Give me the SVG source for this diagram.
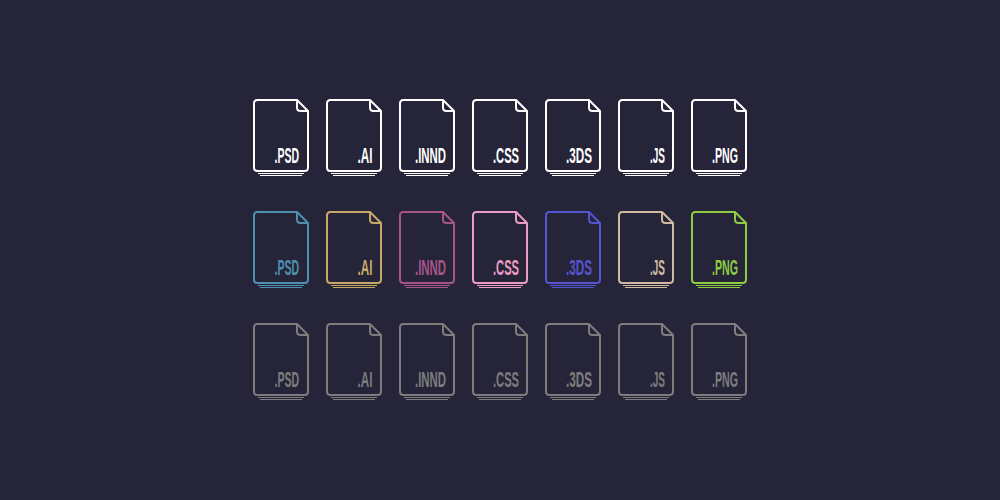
<svg xmlns="http://www.w3.org/2000/svg" width="1000" height="500" viewBox="0 0 1000 500">
<style>
.l{font-family:"Liberation Sans",sans-serif;font-size:22px;font-weight:700;text-anchor:end;fill:currentColor}
.o{fill:none;stroke:currentColor;stroke-width:2;stroke-linejoin:round}
.s{fill:none;stroke:currentColor;stroke-width:1}
</style>
<defs>
<g id="file">
<path class="o" d="M257.500 100H297L308 111V167.500Q308 171 304.500 171H257.500Q254 171 254 167.500V103.500Q254 100 257.500 100Z"/>
<path class="o" d="M297 100V107.500Q297 111 300.500 111H308"/>
<path class="s" d="M258 173.500H304M260 175.500H302"/>
</g>
</defs>
<rect width="1000" height="500" fill="#252439"/>
<g id="r1" color="#ffffff">
<g id="r1-psd"><use href="#file"/><text class="l" x="299" y="162.500" textLength="24.500" lengthAdjust="spacingAndGlyphs">.PSD</text></g>
<g id="r1-ai"><use href="#file" x="73"/><text class="l" x="372.500" y="162.500" textLength="15" lengthAdjust="spacingAndGlyphs">.AI</text></g>
<g id="r1-innd"><use href="#file" x="146"/><text class="l" x="446" y="162.500" textLength="31" lengthAdjust="spacingAndGlyphs">.INND</text></g>
<g id="r1-css"><use href="#file" x="219"/><text class="l" x="519" y="162.500" textLength="26" lengthAdjust="spacingAndGlyphs">.CSS</text></g>
<g id="r1-3ds"><use href="#file" x="292"/><text class="l" x="592" y="162.500" textLength="26" lengthAdjust="spacingAndGlyphs">.3DS</text></g>
<g id="r1-js"><use href="#file" x="365"/><text class="l" x="665" y="162.500" textLength="15" lengthAdjust="spacingAndGlyphs">.JS</text></g>
<g id="r1-png"><use href="#file" x="438"/><text class="l" x="738" y="162.500" textLength="26" lengthAdjust="spacingAndGlyphs">.PNG</text></g>
</g>
<g id="r2">
<g id="r2-psd" color="#4f8fb0"><use href="#file" y="112"/><text class="l" x="299" y="274.500" textLength="24.500" lengthAdjust="spacingAndGlyphs">.PSD</text></g>
<g id="r2-ai" color="#c8a866"><use href="#file" x="73" y="112"/><text class="l" x="372.500" y="274.500" textLength="15" lengthAdjust="spacingAndGlyphs">.AI</text></g>
<g id="r2-innd" color="#a5558a"><use href="#file" x="146" y="112"/><text class="l" x="446" y="274.500" textLength="31" lengthAdjust="spacingAndGlyphs">.INND</text></g>
<g id="r2-css" color="#ec9cc2"><use href="#file" x="219" y="112"/><text class="l" x="519" y="274.500" textLength="26" lengthAdjust="spacingAndGlyphs">.CSS</text></g>
<g id="r2-3ds" color="#5555d0"><use href="#file" x="292" y="112"/><text class="l" x="592" y="274.500" textLength="26" lengthAdjust="spacingAndGlyphs">.3DS</text></g>
<g id="r2-js" color="#cfb9a0"><use href="#file" x="365" y="112"/><text class="l" x="665" y="274.500" textLength="15" lengthAdjust="spacingAndGlyphs">.JS</text></g>
<g id="r2-png" color="#8dcc42"><use href="#file" x="438" y="112"/><text class="l" x="738" y="274.500" textLength="26" lengthAdjust="spacingAndGlyphs">.PNG</text></g>
</g>
<g id="r3" color="#7d7d7d">
<g id="r3-psd"><use href="#file" y="224"/><text class="l" x="299" y="386.500" textLength="24.500" lengthAdjust="spacingAndGlyphs">.PSD</text></g>
<g id="r3-ai"><use href="#file" x="73" y="224"/><text class="l" x="372.500" y="386.500" textLength="15" lengthAdjust="spacingAndGlyphs">.AI</text></g>
<g id="r3-innd"><use href="#file" x="146" y="224"/><text class="l" x="446" y="386.500" textLength="31" lengthAdjust="spacingAndGlyphs">.INND</text></g>
<g id="r3-css"><use href="#file" x="219" y="224"/><text class="l" x="519" y="386.500" textLength="26" lengthAdjust="spacingAndGlyphs">.CSS</text></g>
<g id="r3-3ds"><use href="#file" x="292" y="224"/><text class="l" x="592" y="386.500" textLength="26" lengthAdjust="spacingAndGlyphs">.3DS</text></g>
<g id="r3-js"><use href="#file" x="365" y="224"/><text class="l" x="665" y="386.500" textLength="15" lengthAdjust="spacingAndGlyphs">.JS</text></g>
<g id="r3-png"><use href="#file" x="438" y="224"/><text class="l" x="738" y="386.500" textLength="26" lengthAdjust="spacingAndGlyphs">.PNG</text></g>
</g>
</svg>
